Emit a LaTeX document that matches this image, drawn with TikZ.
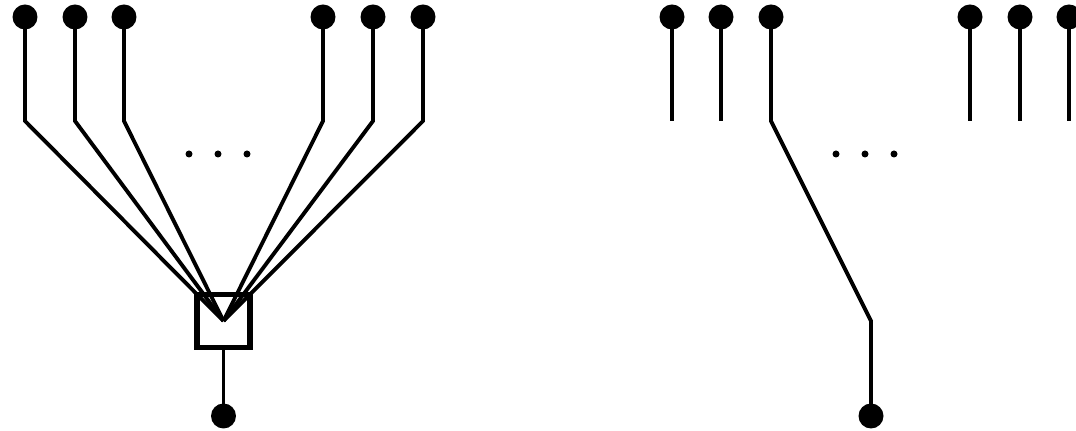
\documentclass[tikz,border=0pt]{standalone}
\usepackage{tikz}
\usetikzlibrary{positioning,calc}

\begin{document}
\begin{tikzpicture}[
  x=0.02cm, y=-0.02cm,
  leaf/.style={circle, fill=black, inner sep=0pt, minimum size=0.5cm},
  wire/.style={line width=2.2pt, line join=miter},
  gate/.style={draw, line width=3.3pt, minimum size=1.06cm, inner sep=0pt},
  dotty/.style={circle, fill=black, inner sep=0pt, minimum size=0.14cm}
]
\useasboundingbox (0,0) rectangle (1076,431);
\clip (0,0) rectangle (1076,431);
% left: all inputs meet in the box
\node[gate] (box) at (223.5,321) {};
\coordinate (join) at (223.5,321);
\node[leaf] (l1) at (25,17) {};
\node[leaf] (l2) at (75,17) {};
\node[leaf] (l3) at (124,17) {};
\node[leaf] (l4) at (323,17) {};
\node[leaf] (l5) at (373,17) {};
\node[leaf] (l6) at (423,17) {};
\node[leaf] (lout) at (223.5,416) {};
\foreach \n/\x in {l1/25,l2/75,l3/124,l4/323,l5/373,l6/423}
  \draw[wire] (\n.center) -- (\x,121) -- (join);
\draw[wire] (box.south) -- (lout.center);
\node[dotty] (ld1) at (189,154) {};
\node[dotty] (ld2) at (218,154) {};
\node[dotty] (ld3) at (247,154) {};
% right: only one input goes through
\node[leaf] (r1) at (672,17) {};
\node[leaf] (r2) at (721,17) {};
\node[leaf] (r3) at (771,17) {};
\node[leaf] (r4) at (970,17) {};
\node[leaf] (r5) at (1020,17) {};
\node[leaf] (r6) at (1069,17) {};
\node[leaf] (rout) at (871,416) {};
\foreach \n/\x in {r1/672,r2/721,r4/970,r5/1020,r6/1069}
  \draw[wire] (\n.center) -- (\x,121);
\draw[wire] (r3.center) -- (771,121) -- (871,321) -- (rout.center);
\node[dotty] (rd1) at (836,154) {};
\node[dotty] (rd2) at (865,154) {};
\node[dotty] (rd3) at (894,154) {};
\end{tikzpicture}
\end{document}
